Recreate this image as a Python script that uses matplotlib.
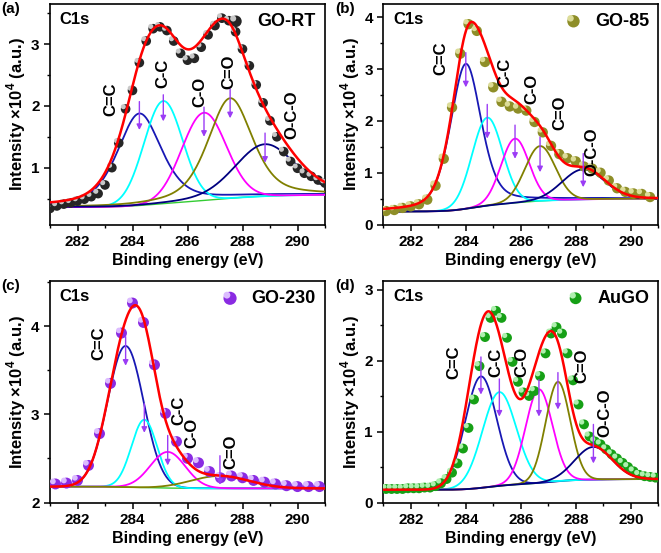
import matplotlib
matplotlib.use("Agg")
import matplotlib.pyplot as plt
import numpy as np
from matplotlib.path import Path
from matplotlib.ticker import MultipleLocator

plt.rcParams["font.family"] = ["Liberation Sans", "DejaVu Sans"]
plt.rcParams["font.weight"] = "bold"
plt.rcParams["mathtext.fontset"] = "custom"
plt.rcParams["mathtext.rm"] = "Liberation Sans:bold"
plt.rcParams["mathtext.bf"] = "Liberation Sans:bold"

# ---- measured points (x10^4 counts) ----
a_x = 281.0 + 0.25 * np.arange(41)
a_y = [0.34, 0.38, 0.41, 0.43, 0.46, 0.49, 0.53, 0.58, 0.72, 1.00, 1.40, 1.95, 2.25, 2.70,
       3.05, 3.25, 3.28, 3.22, 3.05, 2.85, 2.74, 2.77, 2.95, 3.15, 3.30, 3.42, 3.38, 3.20,
       2.92, 2.65, 2.34, 2.05, 1.76, 1.50, 1.26, 1.10, 0.99, 0.91, 0.86, 0.80, 0.75]

b_x = 281.1 + 0.3 * np.arange(33)
b_y = [0.26, 0.28, 0.32, 0.35, 0.39, 0.48, 0.75, 1.27, 2.26, 3.30, 3.87, 3.74, 3.14, 2.65,
       2.37, 2.28, 2.24, 2.20, 1.98, 1.78, 1.52, 1.36, 1.28, 1.22, 1.12, 1.08, 1.00, 0.85,
       0.70, 0.63, 0.60, 0.59, 0.53]

c_x = 281.2 + 0.4 * np.arange(25)
c_y = [2.21, 2.22, 2.25, 2.42, 2.78, 3.35, 3.92, 4.26, 4.04, 3.56, 3.01, 2.69, 2.50, 2.45,
       2.35, 2.28, 2.30, 2.28, 2.25, 2.23, 2.21, 2.19, 2.18, 2.18, 2.18]

d_x = 281.1 + 0.2 * np.arange(50)
d_y = [0.19, 0.19, 0.19, 0.19, 0.20, 0.20, 0.20, 0.21, 0.21, 0.23, 0.27, 0.33, 0.42, 0.55,
       0.76, 1.05, 1.45, 1.92, 2.33, 2.60, 2.70, 2.60, 2.32, 1.98, 1.70, 1.55, 1.50, 1.57,
       1.78, 2.10, 2.38, 2.47, 2.38, 2.10, 1.72, 1.38, 1.10, 0.93, 0.86, 0.82, 0.75, 0.68,
       0.62, 0.56, 0.50, 0.44, 0.39, 0.37, 0.36, 0.35]

# ---- fitted components: centre (eV), height, FWHM (eV), lorentzian fraction ----
names = ["C=C", "C-C", "C-O", "C=O", "O-C-O"]
comp_colors = ["#1818b4", "#00ffff", "#ff00ff", "#808000", "#00007f"]

a_center = [284.25, 285.12, 286.60, 287.55, 288.82]
a_height = [1.49, 1.66, 1.42, 1.62, 0.84]
a_fwhm = [1.90, 1.65, 1.90, 1.90, 2.60]
a_eta = [0.5, 0.0, 0.0, 0.45, 0.2]

b_center = [284.00, 284.78, 285.79, 286.70, 288.27]
b_height = [2.80, 1.70, 1.24, 1.06, 0.58]
b_fwhm = [1.32, 1.30, 1.20, 1.30, 1.80]
b_eta = [0.4, 0.0, 0.0, 0.0, 0.0]

c_center = [283.75, 284.43, 285.28, 287.18]
c_height = [1.60, 0.77, 0.41, 0.14]
c_fwhm = [1.55, 1.10, 1.50, 2.50]
c_eta = [0.0, 0.0, 0.0, 0.0]

d_center = [284.55, 285.22, 286.66, 287.35, 288.64]
d_height = [1.57, 1.32, 1.32, 1.40, 0.46]
d_fwhm = [1.35, 1.45, 1.15, 1.05, 1.60]
d_eta = [0.0, 0.0, 0.0, 0.0, 0.0]

# Shirley background end levels
a_bg = (0.36, 0.56)
b_bg = (0.25, 0.50)
c_bg = (2.18, 2.16)
d_bg = (0.18, 0.33)

# arrow tail / tip heights and peak label positions
a_arrow = [(2.07, 1.61), (2.18, 1.75), (1.98, 1.50), (2.27, 1.80), (1.56, 1.08)]
a_label = [(283.2, 2.10), (285.1, 2.53), (286.45, 2.23), (287.5, 2.55), (289.8, 1.85)]
b_arrow = [(3.32, 2.65), (2.32, 1.66), (1.92, 1.27), (1.69, 1.01), (1.37, 0.72)]
b_label = [(283.1, 3.22), (285.42, 2.93), (286.42, 2.62), (287.43, 2.16), (288.58, 1.40)]
c_arrow = [(3.88, 3.55), (3.12, 2.79), (2.76, 2.42), (2.53, 2.20)]
c_label = [(282.79, 3.80), (285.69, 3.04), (286.15, 2.79), (287.58, 2.58)]
d_arrow = [(2.05, 1.52), (1.74, 1.21), (1.73, 1.21), (1.83, 1.31), (1.10, 0.55)]
d_label = [(283.57, 1.98), (285.09, 1.98), (286.03, 1.98), (288.21, 1.92), (289.06, 1.27)]


def peak(x, c, h, w, eta):
    g = np.exp(-4 * np.log(2) * (x - c) ** 2 / w ** 2)
    lor = 1.0 / (1 + 4 * (x - c) ** 2 / w ** 2)
    return h * (eta * lor + (1 - eta) * g)


def panel(ax, tag, sample, xs, ys, dot, hi, size, centers, heights, fwhms, etas, bg,
          arrows, labels, ylim):
    grid = np.linspace(281, 291, 800)
    peaks = [peak(grid, c, h, w, e) for c, h, w, e in zip(centers, heights, fwhms, etas)]
    total = np.sum(peaks, axis=0)
    cum = np.cumsum(total)
    base = bg[0] + (bg[1] - bg[0]) * cum / cum[-1]

    ax.plot(grid, base, color="#33cc33", lw=1.0, zorder=2)
    for p, col in zip(peaks, comp_colors):
        ax.plot(grid, base + p, color=col, lw=1.3, zorder=3)

    s1 = ax.scatter(xs, ys, s=size, color=dot, edgecolors="none", zorder=4)
    hl = Path.circle((-0.2, 0.2), 0.22)
    s2 = ax.scatter(xs, ys, s=size, color=hi, marker=hl, edgecolors="none", zorder=5)
    ax.plot(grid, base + total, color="#ff0000", lw=1.8, zorder=6)

    for i, (c, (t0, t1)) in enumerate(zip(centers, arrows)):
        ax.annotate("", xy=(c, t1), xytext=(c, t0),
                    arrowprops=dict(arrowstyle="-|>", color="#9b3cf5", lw=1.0,
                                    mutation_scale=8, shrinkA=0, shrinkB=0), zorder=7)
        ax.text(labels[i][0], labels[i][1], names[i], rotation=90, ha="center",
                va="center", fontsize=12, fontweight="bold", zorder=8)

    ax.text(0.035, 0.965, "C1s", transform=ax.transAxes, ha="left", va="top",
            fontsize=12, fontweight="bold")
    ax.legend([(s1, s2)], [sample], loc="upper right", frameon=False,
              prop={"size": 13, "weight": "bold"}, handletextpad=0.6,
              borderaxespad=0.1, handlelength=1.2, markerscale=1.2)

    ax.set_xlim(281, 291)
    ax.set_ylim(*ylim)
    ax.xaxis.set_major_locator(MultipleLocator(2))
    ax.xaxis.set_minor_locator(MultipleLocator(1))
    ax.yaxis.set_major_locator(MultipleLocator(1))
    ax.yaxis.set_minor_locator(MultipleLocator(0.5))
    ax.tick_params(which="major", length=4, width=1.1, labelsize=11)
    ax.tick_params(which="minor", length=2.5, width=1.0)
    for sp in ax.spines.values():
        sp.set_linewidth(1.2)
    ax.set_xlabel("Binding energy (eV)", fontsize=11.5, fontweight="bold", labelpad=3)
    ax.set_ylabel("Intensity \u00d710$^{4}$ (a.u.)", fontsize=12, fontweight="bold",
                  labelpad=2)
    fig = ax.figure
    pos = ax.get_position()
    fig.text(pos.x0 - 0.073, 0.997 if pos.y1 > 0.6 else 0.495, tag, ha="left", va="top",
             fontsize=11, fontweight="bold")


fig = plt.figure(figsize=(6.61, 5.53), dpi=100)
W, H = 661.0, 553.0
ax_a = fig.add_axes([50 / W, 1 - 224.5 / H, 275 / W, 220.5 / H])
ax_b = fig.add_axes([383.3 / W, 1 - 224.5 / H, 275 / W, 220.5 / H])
ax_c = fig.add_axes([50 / W, 1 - 502.5 / H, 275 / W, 221.5 / H])
ax_d = fig.add_axes([383.3 / W, 1 - 502.5 / H, 275 / W, 221.5 / H])

panel(ax_a, "(a)", "GO-RT", a_x, a_y, "#262626", "#c8c8c8", 48, a_center, a_height,
      a_fwhm, a_eta, a_bg, a_arrow, a_label, (0.08, 3.65))
panel(ax_b, "(b)", "GO-85", b_x, b_y, "#8e8e28", "#dcdc98", 55, b_center, b_height,
      b_fwhm, b_eta, b_bg, b_arrow, b_label, (0.0, 4.26))
panel(ax_c, "(c)", "GO-230", c_x, c_y, "#8a2be2", "#dcbcff", 62, c_center, c_height,
      c_fwhm, c_eta, c_bg, c_arrow, c_label, (2.0, 4.51))
panel(ax_d, "(d)", "AuGO", d_x, d_y, "#16a016", "#aef0ae", 50, d_center, d_height,
      d_fwhm, d_eta, d_bg, d_arrow, d_label, (0.0, 3.12))

fig.savefig("out.png", dpi=100)
